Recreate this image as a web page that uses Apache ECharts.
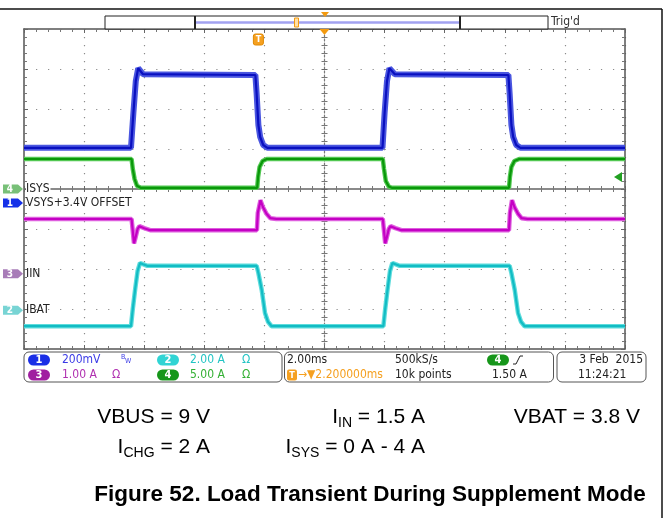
<!DOCTYPE html>
<html>
<head>
<meta charset="utf-8">
<title>Figure 52. Load Transient During Supplement Mode</title>
<script src="https://cdn.jsdelivr.net/npm/echarts@6/dist/echarts.min.js"></script>
<style>
  html, body { margin: 0; padding: 0; background: #fff; }
  #scope { width: 669px; height: 518px; }
</style>
</head>
<body>
<div id="scope"></div>
<script>
// x: time in ms (2 ms/div, screen centre = 0), y: divisions from centre
const timeMin = -10, timeMax = 10, timeDiv = 2;
const divMin = -4, divMax = 4;

// CH1 (blue) VSYS
const ch1Vsys = [[-10,1.03],[-6.44,1.03],[-6.36,1.9],[-6.28,2.7],[-6.2,3.02],[-6.14,3.0],[-6.04,2.87],
  [-2.3,2.85],[-2.26,2.4],[-2.2,1.6],[-2.14,1.3],[-2.04,1.1],[-1.9,1.03],
  [1.93,1.03],[2.0,1.9],[2.08,2.7],[2.16,3.02],[2.22,3.0],[2.34,2.87],
  [6.12,2.85],[6.16,2.4],[6.22,1.6],[6.28,1.3],[6.38,1.1],[6.52,1.03],[10,1.03]];
// CH4 (green) ISYS
const ch4Isys = [[-10,0.75],[-6.42,0.75],[-6.38,0.5],[-6.32,0.25],[-6.24,0.08],[-6.12,0.03],
  [-2.24,0.03],[-2.21,0.3],[-2.16,0.55],[-2.06,0.7],[-1.92,0.75],
  [1.94,0.75],[1.98,0.5],[2.04,0.2],[2.14,0.06],[2.24,0.03],
  [6.14,0.03],[6.17,0.3],[6.22,0.55],[6.32,0.7],[6.48,0.75],[10,0.75]];
// CH3 (magenta)
const ch3Iin = [[-10,-0.75],[-6.42,-0.75],[-6.38,-1.05],[-6.34,-1.36],[-6.3,-1.25],[-6.22,-1.0],[-6.16,-0.93],[-6.0,-0.98],[-5.8,-1.03],
  [-2.25,-1.03],[-2.22,-0.6],[-2.13,-0.28],[-2.05,-0.45],[-1.93,-0.62],[-1.8,-0.73],[-1.6,-0.75],
  [1.94,-0.75],[1.98,-1.05],[2.02,-1.36],[2.06,-1.25],[2.14,-1.0],[2.2,-0.93],[2.36,-0.98],[2.56,-1.03],
  [6.14,-1.03],[6.17,-0.6],[6.24,-0.28],[6.32,-0.45],[6.44,-0.62],[6.56,-0.73],[6.76,-0.75],[10,-0.75]];
// CH2 (cyan) IBAT
const ch2Ibat = [[-10,-3.43],[-6.44,-3.43],[-6.38,-3.0],[-6.3,-2.5],[-6.22,-2.05],[-6.14,-1.85],[-6.04,-1.88],[-5.9,-1.92],
  [-2.26,-1.92],[-2.2,-2.1],[-2.09,-2.52],[-1.98,-3.1],[-1.88,-3.32],[-1.76,-3.43],
  [1.96,-3.43],[2.02,-3.0],[2.1,-2.5],[2.18,-2.05],[2.26,-1.85],[2.36,-1.88],[2.5,-1.92],
  [6.16,-1.92],[6.22,-2.1],[6.33,-2.52],[6.44,-3.1],[6.54,-3.32],[6.66,-3.43],[10,-3.43]];

// channel ground markers (div) and their labels
const refChannels = ['4', '1', '3', '2'];
const refLabels = ['ISYS', 'VSYS+3.4V OFFSET', 'IIN', 'IBAT'];
const refLevels = [0, -0.35, -2.12, -3.03];
const triggerTime = -2.2;   // ms
const triggerLevel = 0.3;   // div (1.50 A on CH4)

const scaleTexts = ['200mV', '2.00 A', '1.00 A', '5.00 A'];
const conditionsRow1 = ['{n|VBUS = 9 V}', '{n|I}{s|IN}{n| = 1.5 A}', '{n|VBAT = 3.8 V}'];
const conditionsRow2 = ['{n|I}{s|CHG}{n| = 2 A}', '{n|I}{s|SYS}{n| = 0 A - 4 A}'];
const figTitle = 'Figure 52. Load Transient During Supplement Mode';

const chColors = {
  '1': { core: '#0a10c0', halo: '#4a56e0', tag: '#1530e8' },
  '2': { core: '#12bcc4', halo: '#5edcdc', tag: '#78d4d4' },
  '3': { core: '#c400c4', halo: '#de5ede', tag: '#a87cb8' },
  '4': { core: '#0a980a', halo: '#52c852', tag: '#78c078' }
};
const pillColors = { '1': '#1a2ee6', '2': '#30d4d4', '3': '#a01ea0', '4': '#16961a' };
const textColors = { '1': '#3a3ae6', '2': '#22c4c4', '3': '#b030b0', '4': '#34b034' };
const scopeFont = '"DejaVu Sans Condensed", "DejaVu Sans", sans-serif';
const paperFont = '"Liberation Sans", Arial, sans-serif';

const gridLeft = 24, gridTop = 29, gridW = 601, gridH = 320;

let chart = echarts.init(document.getElementById('scope'));

// plot frame axes + graticule
function edgeX(pos) {
  return {
    type: 'value', min: timeMin, max: timeMax, interval: timeDiv, position: pos,
    axisLine: { show: true, onZero: false, lineStyle: { color: '#555', width: 1.5 } },
    axisTick: { show: true, inside: true, length: 4, lineStyle: { color: '#666' } },
    minorTick: { show: true, splitNumber: 5, length: 3, lineStyle: { color: '#777' } },
    axisLabel: { show: false },
    splitLine: { show: pos === 'bottom', lineStyle: { color: '#8c8c8c', width: 1.2, type: [1.2, 6.8] } }
  };
}
function edgeY(pos) {
  return {
    type: 'value', min: divMin, max: divMax, interval: 1, position: pos,
    axisLine: { show: true, onZero: false, lineStyle: { color: '#555', width: 1.5 } },
    axisTick: { show: true, inside: true, length: 4, lineStyle: { color: '#666' } },
    minorTick: { show: true, splitNumber: 5, length: 3, lineStyle: { color: '#777' } },
    axisLabel: { show: false },
    splitLine: { show: pos === 'left', lineStyle: { color: '#8c8c8c', width: 1.2, type: [1.2, 10.82] } }
  };
}
// centre cross: moved inward from the edge with a negative offset
function centreX(inside, line) {
  return {
    type: 'value', min: timeMin, max: timeMax, interval: timeDiv, position: 'bottom', offset: -gridH / 2,
    axisLine: { show: line, onZero: false, lineStyle: { color: '#8a8a8a', width: 2 } },
    axisTick: { show: true, inside: inside, length: 3, lineStyle: { color: '#666' } },
    minorTick: { show: true, splitNumber: 5, length: 3, lineStyle: { color: '#777' } },
    axisLabel: { show: false }, splitLine: { show: false }
  };
}
function centreY(inside, line) {
  return {
    type: 'value', min: divMin, max: divMax, interval: 1, position: 'left', offset: -gridW / 2,
    axisLine: { show: line, onZero: false, lineStyle: { color: '#7a7a7a', width: 1.2, type: [2, 2] } },
    axisTick: { show: true, inside: inside, length: 3, lineStyle: { color: '#666' } },
    minorTick: { show: true, splitNumber: 5, length: 3, lineStyle: { color: '#777' } },
    axisLabel: { show: false }, splitLine: { show: false }
  };
}

function trace(ch, data, w) {
  let c = chColors[ch];
  return [
    { type: 'line', data: data, symbol: 'none', silent: true, z: 3,
      lineStyle: { color: c.halo, width: w } },
    { type: 'line', data: data, symbol: 'none', silent: true, z: 4,
      lineStyle: { color: c.core, width: 2.2 } }
  ];
}

chart.setOption({
  animation: false,
  grid: { left: gridLeft, top: gridTop, width: gridW, height: gridH },
  xAxis: [edgeX('bottom'), edgeX('top'), centreX(true, true), centreX(false, false)],
  yAxis: [edgeY('left'), edgeY('right'), centreY(true, true), centreY(false, false)],
  series: [].concat(trace('2', ch2Ibat, 4.5), trace('3', ch3Iin, 4.5), trace('4', ch4Isys, 4.5), trace('1', ch1Vsys, 6))
});

function txt(x, y, text, fill, size, align) {
  return {
    type: 'text', z: 50,
    style: { x: x, y: y, text: text, fill: fill, font: size + 'px ' + scopeFont,
      align: align || 'left', verticalAlign: 'middle' }
  };
}
function pill(x, y, ch) {
  return [
    { type: 'rect', z: 50, shape: { x: x, y: y - 5.5, width: 22, height: 11, r: 5.5 }, style: { fill: pillColors[ch] } },
    { type: 'text', z: 51, style: { x: x + 11, y: y + 0.5, text: ch, fill: '#fff',
      font: 'bold 11px ' + scopeFont, align: 'center', verticalAlign: 'middle' } }
  ];
}

let g = [];
// page frame
g.push({ type: 'line', z: 50, shape: { x1: 0, y1: 9, x2: 662, y2: 9 }, style: { stroke: '#111', lineWidth: 1.5 } });
g.push({ type: 'line', z: 50, shape: { x1: 662, y1: 9, x2: 662, y2: 518 }, style: { stroke: '#111', lineWidth: 1.5 } });

// record view bar
g.push({ type: 'rect', z: 50, shape: { x: 105, y: 16, width: 443, height: 13 }, style: { fill: '#fff', stroke: '#222', lineWidth: 1 } });
g.push({ type: 'line', z: 51, shape: { x1: 196, y1: 22.5, x2: 459, y2: 22.5 }, style: { stroke: '#a2a2f0', lineWidth: 2.5 } });
g.push({ type: 'line', z: 51, shape: { x1: 195, y1: 16, x2: 195, y2: 29 }, style: { stroke: '#222', lineWidth: 2 } });
g.push({ type: 'line', z: 51, shape: { x1: 460, y1: 16, x2: 460, y2: 29 }, style: { stroke: '#222', lineWidth: 2 } });
g.push({ type: 'rect', z: 52, shape: { x: 294.5, y: 18, width: 4, height: 9 }, style: { fill: '#ffe0a8', stroke: '#f39a10', lineWidth: 1 } });
g.push({ type: 'polygon', z: 52, shape: { points: [[321, 12], [329, 12], [325, 17]] }, style: { fill: '#f39a10' } });
g.push(txt(551, 22, "Trig'd", '#333', 12, 'left'));

// trigger position / level markers
let tPix = chart.convertToPixel({ gridIndex: 0 }, [triggerTime, 0]);
let cPix = chart.convertToPixel({ gridIndex: 0 }, [0, divMax]);
let lPix = chart.convertToPixel({ gridIndex: 0 }, [timeMax, triggerLevel]);
g.push({ type: 'polygon', z: 52, shape: { points: [[cPix[0] - 5, 29], [cPix[0] + 5, 29], [cPix[0], 35]] }, style: { fill: '#f39a10' } });
g.push({ type: 'rect', z: 52, shape: { x: tPix[0] - 5, y: 34, width: 10, height: 11, r: 2 }, style: { fill: '#f5a020', stroke: '#e08800' } });
g.push({ type: 'text', z: 53, style: { x: tPix[0], y: 39.5, text: 'T', fill: '#fff', font: 'bold 9px ' + scopeFont, align: 'center', verticalAlign: 'middle' } });
g.push({ type: 'polygon', z: 52, shape: { points: [[lPix[0] - 11, lPix[1]], [lPix[0] - 3, lPix[1] - 5], [lPix[0] - 3, lPix[1] + 5]] }, style: { fill: '#22a022' } });

// channel ground markers
refChannels.forEach(function (ch, i) {
  let p = chart.convertToPixel({ gridIndex: 0 }, [timeMin, refLevels[i]]);
  let y = p[1];
  g.push({ type: 'polygon', z: 52, shape: { points: [[3, y - 4.5], [18, y - 4.5], [23, y], [18, y + 4.5], [3, y + 4.5]] },
    style: { fill: chColors[ch].tag } });
  g.push({ type: 'text', z: 53, style: { x: 10, y: y + 0.5, text: ch, fill: '#fff', font: 'bold 10px ' + scopeFont, align: 'center', verticalAlign: 'middle' } });
  let lab = txt(26, y, refLabels[i], '#222', 12, 'left');
  if (i === 0) { lab.style.backgroundColor = '#fff'; lab.style.padding = [0, 1, 0, 0]; }
  g.push(lab);
});

// status bar
g.push({ type: 'rect', z: 50, shape: { x: 24, y: 352, width: 258, height: 30, r: 5 }, style: { fill: 'none', stroke: '#555', lineWidth: 1 } });
g.push({ type: 'rect', z: 50, shape: { x: 284.5, y: 352, width: 269, height: 30, r: 5 }, style: { fill: 'none', stroke: '#555', lineWidth: 1 } });
g.push({ type: 'rect', z: 50, shape: { x: 557, y: 352, width: 89, height: 30, r: 5 }, style: { fill: 'none', stroke: '#555', lineWidth: 1 } });
let r1 = 360, r2 = 375;
g = g.concat(pill(28, r1, '1'), pill(28, r2, '3'), pill(157, r1, '2'), pill(157, r2, '4'));
g.push(txt(62, r1, scaleTexts[0], textColors['1'], 12));
g.push(txt(121, r1 - 3, 'B', textColors['1'], 7));
g.push(txt(125, r1 + 1, 'W', textColors['1'], 7));
g.push(txt(190, r1, scaleTexts[1], textColors['2'], 12));
g.push(txt(242, r1, 'Ω', textColors['2'], 12));
g.push(txt(62, r2, scaleTexts[2], textColors['3'], 12));
g.push(txt(112, r2, 'Ω', textColors['3'], 12));
g.push(txt(190, r2, scaleTexts[3], textColors['4'], 12));
g.push(txt(242, r2, 'Ω', textColors['4'], 12));

g.push(txt(287, r1, '2.00ms', '#222', 12));
g.push({ type: 'rect', z: 50, shape: { x: 287, y: r2 - 5.5, width: 10, height: 11, r: 2 }, style: { fill: '#f5a020' } });
g.push({ type: 'text', z: 51, style: { x: 292, y: r2 + 0.5, text: 'T', fill: '#fff', font: 'bold 9px ' + scopeFont, align: 'center', verticalAlign: 'middle' } });
g.push(txt(298, r2, '→▼2.200000ms', '#f5a020', 12));
g.push(txt(395, r1, '500kS/s', '#222', 12));
g.push(txt(395, r2, '10k points', '#222', 12));
g = g.concat(pill(487, r1, '4'));
g.push({ type: 'polyline', z: 50, shape: { points: [[513, r1 + 4], [516, r1 + 4], [520, r1 - 4], [523, r1 - 4]] }, style: { stroke: '#222', lineWidth: 1, fill: null } });
g.push(txt(492, r2, '1.50 A', '#222', 12));
g.push(txt(643, r1, '3 Feb  2015', '#222', 12, 'right'));
g.push(txt(578, r2, '11:24:21', '#222', 12));

// test conditions + caption
let rich = {
  n: { fontSize: 21, fontFamily: paperFont, fill: '#000' },
  s: { fontSize: 14, fontFamily: paperFont, fill: '#000', padding: [12, 0, 0, 0] }
};
[210, 425, 640].forEach(function (x, i) {
  g.push({ type: 'text', z: 50, style: { x: x, y: 417, text: conditionsRow1[i], rich: rich, align: 'right', verticalAlign: 'middle' } });
});
[210, 425].forEach(function (x, i) {
  g.push({ type: 'text', z: 50, style: { x: x, y: 447, text: conditionsRow2[i], rich: rich, align: 'right', verticalAlign: 'middle' } });
});
g.push({ type: 'text', z: 50, style: { x: 370, y: 495, text: figTitle, fill: '#000', font: 'bold 22.5px ' + paperFont, align: 'center', verticalAlign: 'middle' } });

chart.setOption({ graphic: g });
</script>
</body>
</html>
